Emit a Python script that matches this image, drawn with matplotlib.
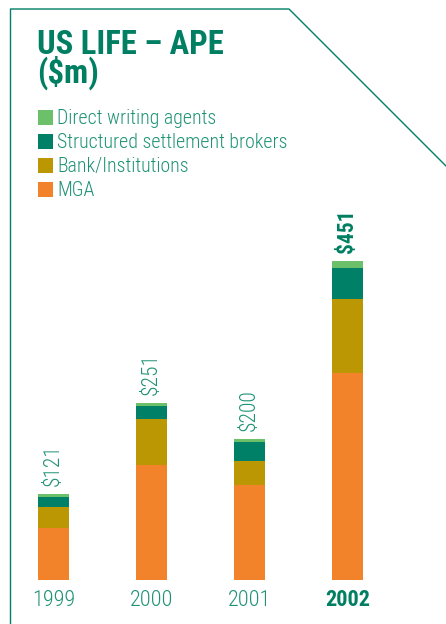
import numpy as np
import matplotlib
matplotlib.use("Agg")
import matplotlib.pyplot as plt
from matplotlib.lines import Line2D

# US life annual premium equivalent by distribution channel ($m)
years = ["1999", "2000", "2001", "2002"]
totals = [121, 251, 200, 451]
mga = [74, 162, 134, 293]
bank = [29, 66, 34, 105]
structured = [14, 18, 27, 43]
direct = [4, 5, 5, 10]

series_names = ["Direct writing agents", "Structured settlement brokers",
                "Bank/Institutions", "MGA"]
colors = {"Direct writing agents": "#6cc06a",
          "Structured settlement brokers": "#008066",
          "Bank/Institutions": "#bb9803",
          "MGA": "#f2832b"}

dark_green = "#007f62"
text_green = "#1f9276"

plt.rcParams['font.family'] = ['Roboto Condensed', 'DejaVu Sans']

W, H = 446, 624
fig = plt.figure(figsize=(W / 100, H / 100), dpi=100)

# bar area: baseline 44px from bottom, 0.707 px per $m
scale = 0.707
ax_bottom = 44
ax_height = 350
ax = fig.add_axes([0, ax_bottom / H, 1, ax_height / H])
ax.set_ylim(0, ax_height / scale)
ax.set_xlim(-53.5 / 98, (W - 53.5) / 98)
ax.axis("off")

x = np.arange(len(years))
width = 31 / 98
bottom = np.zeros(len(years))
for name, vals in [("MGA", mga), ("Bank/Institutions", bank),
                   ("Structured settlement brokers", structured),
                   ("Direct writing agents", direct)]:
    ax.bar(x, vals, width, bottom=bottom, color=colors[name], linewidth=0)
    bottom += np.array(vals)

# totals above bars and year labels below
for i, (yr, tot) in enumerate(zip(years, totals)):
    last = i == len(years) - 1
    weight = "bold" if last else "light"
    col = dark_green if last else text_green
    ax.annotate(f"${tot}", xy=(x[i], bottom[i]), xytext=(0, 8),
                textcoords="offset pixels", rotation=90, ha="center",
                va="bottom", fontsize=15.5, color=col, fontweight=weight)
    ax.annotate(yr, xy=(x[i], 0), xytext=(0, -26), textcoords="offset pixels",
                ha="center", va="baseline", fontsize=16, color=col,
                fontweight=weight)

# title (baseline of the second line anchored)
fig.text(37 / W, 1 - 83 / H, "US LIFE – APE\n($m)", ha="left", va="baseline",
         fontsize=23.5, fontweight="bold", color=dark_green, linespacing=0.82)

# legend rows (baselines in px from top)
row_base = [124, 148, 172, 196]
for name, rb in zip(series_names, row_base):
    fig.patches.append(plt.Rectangle((38 / W, 1 - (rb + 1) / H), 15 / W, 15 / H,
                                     transform=fig.transFigure,
                                     color=colors[name], linewidth=0))
    fig.text(57 / W, 1 - rb / H, name, ha="left", va="baseline",
             fontsize=14.3, color=text_green, fontweight="light")

# frame lines
fx = [10.5, 10.5, 289, W]
fy = [H, 9, 9, 166]
fig.add_artist(Line2D([v / W for v in fx], [1 - v / H for v in fy],
                      transform=fig.transFigure, color="#008066", linewidth=1.0))

fig.savefig("out.png", dpi=100)
